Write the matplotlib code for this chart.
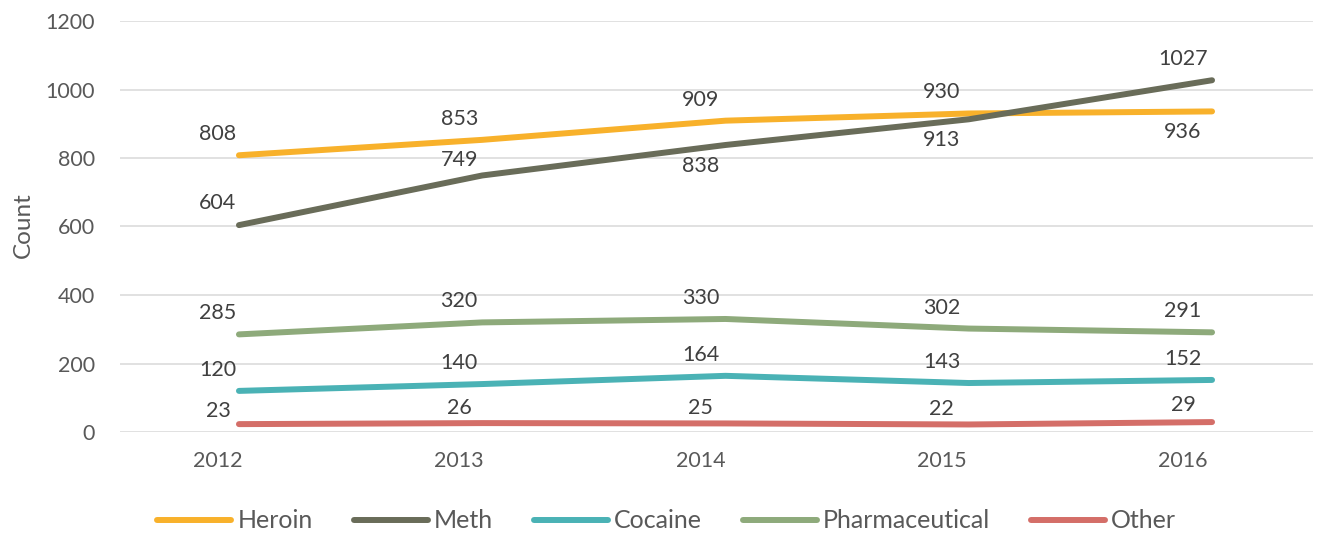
import matplotlib
matplotlib.use('Agg')
import matplotlib.pyplot as plt
import matplotlib.transforms as mtransforms
from matplotlib.lines import Line2D

plt.rcParams['font.family'] = ['Lato', 'DejaVu Sans']

years = ['2012', '2013', '2014', '2015', '2016']
heroin = [808, 853, 909, 930, 936]
meth = [604, 749, 838, 913, 1027]
cocaine = [120, 140, 164, 143, 152]
pharmaceutical = [285, 320, 330, 302, 291]
other = [23, 26, 25, 22, 29]

series = [
    ('Heroin', heroin, '#F8B12B'),
    ('Meth', meth, '#696C59'),
    ('Cocaine', cocaine, '#4AB2B5'),
    ('Pharmaceutical', pharmaceutical, '#8EAA7B'),
    ('Other', other, '#D46E68'),
]

# vertical label offsets in px (positive = above the point)
label_dy = {
    'Heroin': [21, 21, 21, 21, -21],
    'Meth': [22, 15, -21, -21, 21],
    'Cocaine': [21, 21, 21, 21, 21],
    'Pharmaceutical': [21, 21, 21, 21, 21],
    'Other': [13, 15, 15, 15, 17],
}

W, H = 1328, 534
fig = plt.figure(figsize=(W / 100, H / 100), dpi=100)
ax = fig.add_axes([120 / W, 1 - 432 / H, 1193 / W, 411 / H])

x = list(range(len(years)))
px = 0.72  # points per pixel at 100 dpi

for name, vals, col in series:
    ax.plot(x, vals, color=col, lw=4.3, solid_capstyle='round',
            solid_joinstyle='round', zorder=3)
    for i, v in enumerate(vals):
        ax.annotate(str(v), (i, v), xytext=(-(21 + 2 * i) * px, label_dy[name][i] * px),
                    textcoords='offset points', ha='center', va='center',
                    fontsize=15.5, color='#404040', zorder=4)

ax.set_xlim(-0.489, 4.415)
ax.set_ylim(0, 1200)
ax.set_yticks(range(0, 1201, 200))
ax.set_xticks(x)
ax.set_xticklabels(years)
ax.grid(axis='y', color='#D9D9D9', lw=1.1)
ax.set_axisbelow(True)
for s in ax.spines.values():
    s.set_visible(False)
ax.tick_params(axis='both', length=0, labelsize=15.5, labelcolor='#595959')
ax.tick_params(axis='y', pad=18)
ax.tick_params(axis='x', pad=14)

# year labels sit a little left of the points
for i, lab in enumerate(ax.get_xticklabels()):
    shift = mtransforms.ScaledTranslation(-(21 + 2 * i) / 100, 0, fig.dpi_scale_trans)
    lab.set_transform(lab.get_transform() + shift)

fig.text(23 / W, 1 - 225 / H, 'Count', rotation=90, ha='center', va='center',
         fontsize=17.5, color='#595959')

handles = [Line2D([], [], color=col, lw=4.3, solid_capstyle='round') for _, _, col in series]
fig.legend(handles, [n for n, _, _ in series], loc='center',
           bbox_to_anchor=(0.502, 1 - 521 / H), ncol=5, frameon=False,
           fontsize=18, labelcolor='#595959', handlelength=2.96,
           handletextpad=0.24, columnspacing=1.64)

fig.savefig('out.png', dpi=100)
